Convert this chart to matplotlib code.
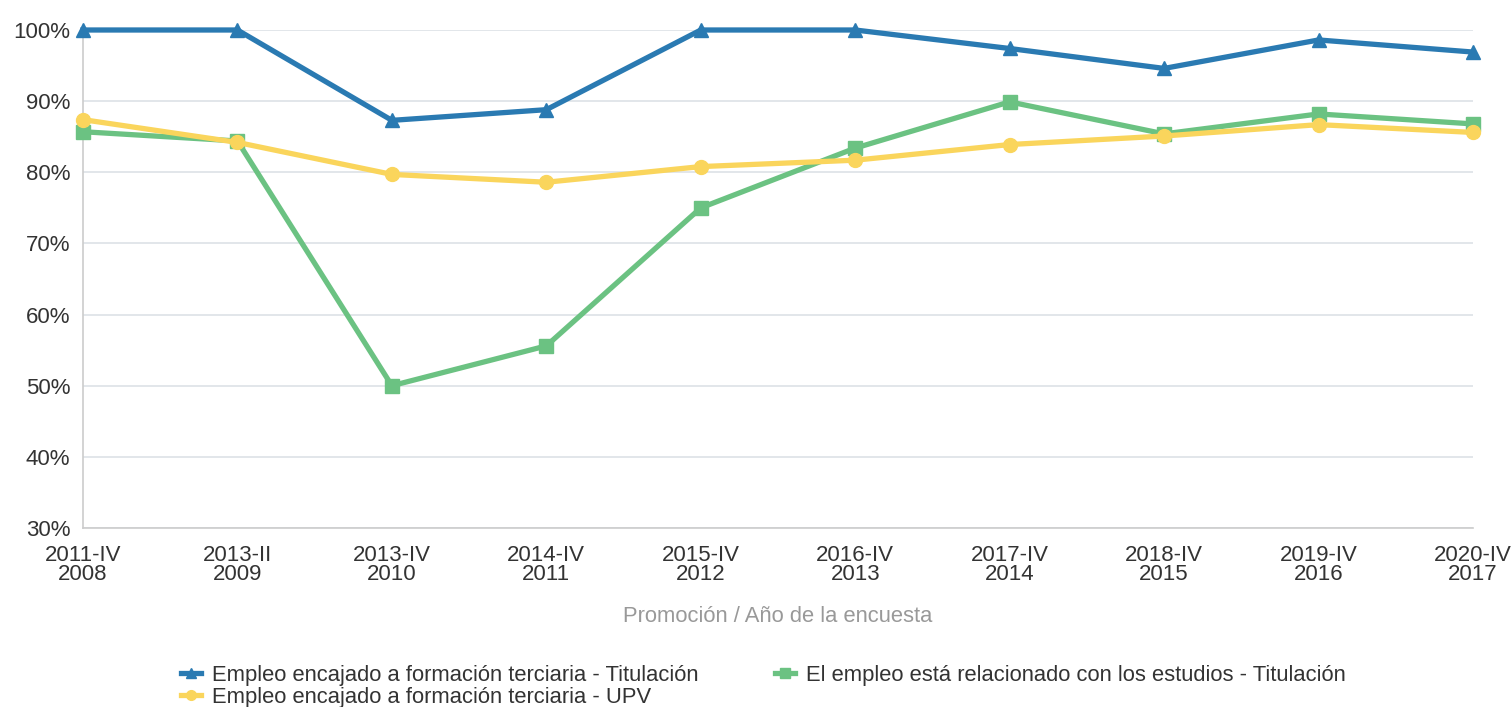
import matplotlib.pyplot as plt
from matplotlib.ticker import FuncFormatter

plt.rcParams['font.family'] = ['Liberation Sans', 'DejaVu Sans']

# Categories and series
categories = ['2011-IV\n2008', '2013-II\n2009', '2013-IV\n2010', '2014-IV\n2011', '2015-IV\n2012',
              '2016-IV\n2013', '2017-IV\n2014', '2018-IV\n2015', '2019-IV\n2016', '2020-IV\n2017']
encajado_titulacion = [100, 100, 87.3, 88.8, 100, 100, 97.4, 94.6, 98.6, 96.9]
relacionado_titulacion = [85.7, 84.4, 50.0, 55.6, 75.0, 83.4, 89.9, 85.4, 88.2, 86.8]
encajado_upv = [87.4, 84.2, 79.7, 78.6, 80.8, 81.7, 83.9, 85.1, 86.7, 85.6]
yticks = [30, 40, 50, 60, 70, 80, 90, 100]

fig = plt.figure(figsize=(15.11, 7.07), dpi=100)
ax = fig.add_axes([83 / 1511, 1 - 528 / 707, 1390 / 1511, 498 / 707])

x = list(range(len(categories)))
ax.plot(x, relacionado_titulacion, color='#6bc282', linewidth=3.8, marker='s', markersize=10,
        label='El empleo está relacionado con los estudios - Titulación', zorder=3, clip_on=False)
ax.plot(x, encajado_upv, color='#fad55c', linewidth=3.8, marker='o', markersize=10,
        label='Empleo encajado a formación terciaria - UPV', zorder=4, clip_on=False)
ax.plot(x, encajado_titulacion, color='#2a7ab2', linewidth=3.8, marker='^', markersize=10,
        label='Empleo encajado a formación terciaria - Titulación', zorder=5, clip_on=False)

ax.set_xlim(0, len(categories) - 1)
ax.set_ylim(30, 100)
ax.set_yticks(yticks)
ax.yaxis.set_major_formatter(FuncFormatter(lambda v, p: f'{int(v)}%'))
ax.set_xticks(x)
ax.set_xticklabels(categories, linespacing=0.9)
ax.tick_params(axis='both', length=0, labelsize=16, colors='#333333')
ax.tick_params(axis='x', pad=12)
ax.tick_params(axis='y', pad=9)
ax.grid(axis='y', color='#dde1e6', linewidth=1.2, zorder=0)
for s in ['top', 'right']:
    ax.spines[s].set_visible(False)
for s in ['left', 'bottom']:
    ax.spines[s].set_color('#cccccc')
    ax.spines[s].set_linewidth(1.2)

ax.set_xlabel('Promoción / Año de la encuesta', fontsize=15.8, color='#999999', labelpad=15)

handles, labels = ax.get_legend_handles_labels()
order = [2, 1, 0]
leg = fig.legend([handles[i] for i in order], [labels[i] for i in order],
                 loc='upper left', bbox_to_anchor=(170 / 1511, 1 - 654 / 707), ncol=2,
                 frameon=False, fontsize=15.8, handlelength=0.9, handletextpad=0.5,
                 columnspacing=3.5, labelspacing=0.05, borderpad=0, markerscale=0.7)
for t in leg.get_texts():
    t.set_color('#333333')

fig.savefig('out.png', dpi=100)
